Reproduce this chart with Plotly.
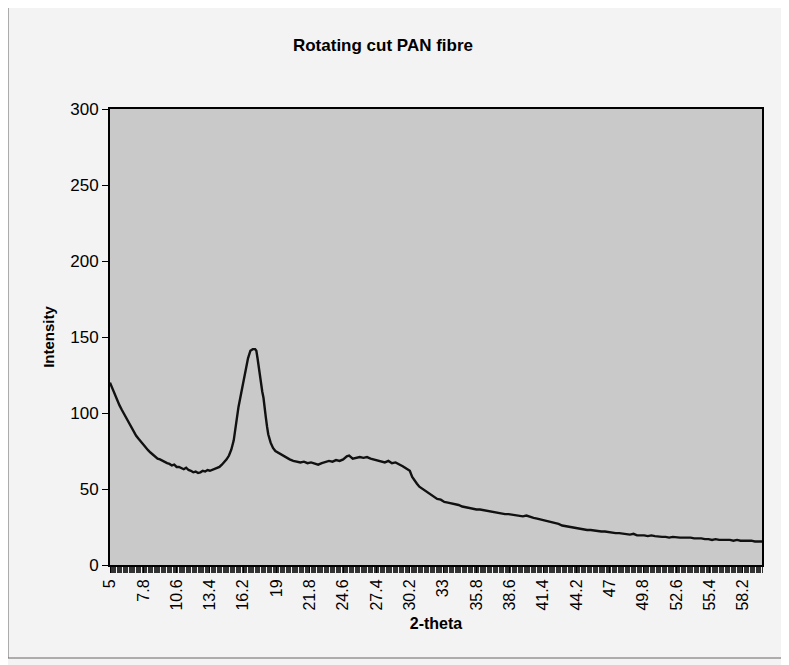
import plotly.graph_objects as go

# 2-theta (degrees) and intensity values
two_theta = [
    5.0, 5.2, 5.4, 5.6, 5.8, 6.0, 6.2, 6.4, 6.6, 6.8, 7.0, 7.2, 7.4, 7.6, 7.8, 8.0, 8.2, 8.4, 8.6, 8.8,
    9.0, 9.2, 9.4, 9.6, 9.8, 10.0, 10.2, 10.4, 10.6, 10.8, 11.0, 11.2, 11.4, 11.6, 11.8, 12.0, 12.2, 12.4,
    12.6, 12.8, 13.0, 13.2, 13.4, 13.6, 13.8, 14.0, 14.2, 14.4, 14.6, 14.8, 15.0, 15.2, 15.4, 15.5, 15.6,
    15.7, 15.8, 16.0, 16.2, 16.4, 16.6, 16.8, 17.0, 17.2, 17.3, 17.4, 17.5, 17.6, 17.7, 17.8, 17.9, 18.0,
    18.1, 18.2, 18.3, 18.5, 18.7, 18.9, 19.2, 19.5, 19.8, 20.1, 20.4, 20.7, 21.0, 21.3, 21.6, 21.9, 22.2,
    22.5, 22.8, 23.1, 23.4, 23.7, 24.0, 24.3, 24.6, 24.9, 25.1, 25.4, 25.7, 26.0, 26.3, 26.6, 26.9, 27.2,
    27.5, 27.8, 28.1, 28.4, 28.7, 29.0, 29.3, 29.6, 29.9, 30.2, 30.4, 30.6, 30.8, 31.0, 31.3, 31.6, 31.9,
    32.2, 32.5, 32.8, 33.1, 33.4, 33.7, 34.0, 34.3, 34.6, 34.9, 35.2, 35.5, 35.8, 36.1, 36.4, 36.7, 37.0,
    37.3, 37.6, 37.9, 38.2, 38.5, 38.8, 39.1, 39.4, 39.7, 40.0, 40.3, 40.6, 40.9, 41.2, 41.5, 41.8, 42.1,
    42.4, 42.7, 43.0, 43.3, 43.6, 43.9, 44.2, 44.5, 44.8, 45.1, 45.4, 45.7, 46.0, 46.3, 46.6, 46.9, 47.2,
    47.5, 47.8, 48.1, 48.4, 48.7, 49.0, 49.3, 49.6, 49.9, 50.2, 50.5, 50.8, 51.1, 51.4, 51.7, 52.0, 52.3,
    52.6, 52.9, 53.2, 53.5, 53.8, 54.1, 54.4, 54.7, 55.0, 55.3, 55.6, 55.9, 56.2, 56.5, 56.8, 57.1, 57.4,
    57.7, 58.0, 58.3, 58.6, 58.9, 59.2, 59.5, 59.8,
]

intensity = [
    120, 116, 112, 109, 105, 102, 99, 96, 93, 90, 87, 85, 83, 81, 79.5, 77.5, 75.5, 74, 72.5, 71.5,
    70, 69.5, 68.5, 68, 67, 66.5, 65.5, 66, 64.5, 64.5, 64, 63, 64, 62.5, 62, 61, 61.5, 60.5,
    61, 62, 61.5, 62.5, 62, 62.5, 63, 63.5, 64.5, 66, 67.5, 69.5, 72, 76, 82, 88, 94,
    99, 104, 112, 120, 128, 136, 141, 142, 142, 141, 136, 130, 124, 119, 114, 110, 105,
    97, 91, 86, 80.5, 77, 75, 73.5, 72, 70.5, 69.5, 68.5, 68, 67.5, 68, 67, 67.5, 66.5,
    66, 67, 67.5, 68.5, 68, 69, 68.5, 69.5, 71.5, 72, 70, 70.5, 71, 70.5, 71, 70, 69.5,
    68.5, 68, 67.5, 68.5, 67, 67.5, 66.5, 65, 63.5, 62, 58, 55.5, 53.5, 51.5, 50, 48, 46.5,
    45, 43.5, 43, 41.5, 41, 40.5, 40.5, 39.5, 38.5, 38, 37.5, 37, 36.5, 36.5, 36, 35.5, 35,
    35, 34.5, 34, 33.5, 33.5, 33, 32.5, 32.5, 32, 32.5, 31.5, 31, 30.5, 30, 29.5, 29, 28,
    27.5, 27, 26, 25.5, 25, 24.5, 24, 23.5, 23.5, 23, 23, 22.5, 22.5, 22, 22, 21.5, 21.5,
    21, 21, 20.5, 20.5, 20, 20.5, 19.5, 19.5, 19.5, 19, 19.5, 19, 18.5, 18.5, 18.5, 18, 18.5,
    18, 18, 18, 18, 18, 17.5, 17.5, 17.5, 17, 17, 16.5, 17, 16.5, 16.5, 16.5, 16.5, 16,
    16.5, 16, 16, 16, 16, 15.5, 15.5, 15.5,
]

tick_values = [5, 7.8, 10.6, 13.4, 16.2, 19, 21.8, 24.6, 27.4, 30.2, 33, 35.8, 38.6, 41.4, 44.2,
               47, 49.8, 52.6, 55.4, 58.2]
tick_labels = ["5", "7.8", "10.6", "13.4", "16.2", "19", "21.8", "24.6", "27.4", "30.2", "33",
               "35.8", "38.6", "41.4", "44.2", "47", "49.8", "52.6", "55.4", "58.2"]

FONT = "Liberation Sans, Arial, sans-serif"

# page has an 8px body margin; compensate so the plot area lands at x 110-762, y 109-565
L, R, T, B = 102, 35, 101, 108
W, H = 789, 665
PW, PH = W - L - R, H - T - B

fig = go.Figure()
fig.add_trace(go.Scatter(
    x=two_theta, y=intensity, mode="lines",
    line=dict(color="#111111", width=2.4),
    showlegend=False, hoverinfo="x+y",
))

fig.update_layout(
    width=W, height=H,
    margin=dict(l=L, r=R, t=T, b=B, autoexpand=False),
    paper_bgcolor="#f3f3f3",
    plot_bgcolor="#c9c9c9",
    font=dict(family=FONT, color="#000000"),
    title=dict(text="<b>Rotating cut PAN fibre</b>", x=375 / W, xanchor="center",
               y=1 - 37 / H, yanchor="middle", font=dict(size=17, family=FONT)),
    xaxis=dict(
        range=[5, 59.8], tickmode="array", tickvals=tick_values, ticktext=tick_labels,
        tickangle=-90, tickfont=dict(size=16, family=FONT),
        ticks="outside", ticklen=6, tickcolor="#000000", tickwidth=1,
        showgrid=False, zeroline=False,
        showline=True, linecolor="#000000", linewidth=2, mirror=True,
        minor=dict(dtick=0.1, tick0=5, ticks="outside", ticklen=6, tickcolor="#333333",
                   tickwidth=1, showgrid=False),
        title=dict(text="<b>2-theta</b>", font=dict(size=16, family=FONT), standoff=8),
    ),
    yaxis=dict(
        range=[0, 300], tickvals=[0, 50, 100, 150, 200, 250, 300],
        tickfont=dict(size=17, family=FONT),
        ticks="outside", ticklen=6, tickcolor="#000000",
        showgrid=False, zeroline=False,
        showline=True, linecolor="#000000", linewidth=2, mirror=True,
        title=dict(text="<b>Intensity</b>", font=dict(size=15, family=FONT), standoff=12),
    ),
    shapes=[dict(type="rect", xref="paper", yref="paper",
                 x0=(0 - L) / PW, x1=(777 - L) / PW,
                 y0=(H - B - 650) / PH, y1=(H - B + 2) / PH,
                 line=dict(color="#666666", width=1), fillcolor="rgba(0,0,0,0)", layer="below")],
)

fig.write_html("out.html")
